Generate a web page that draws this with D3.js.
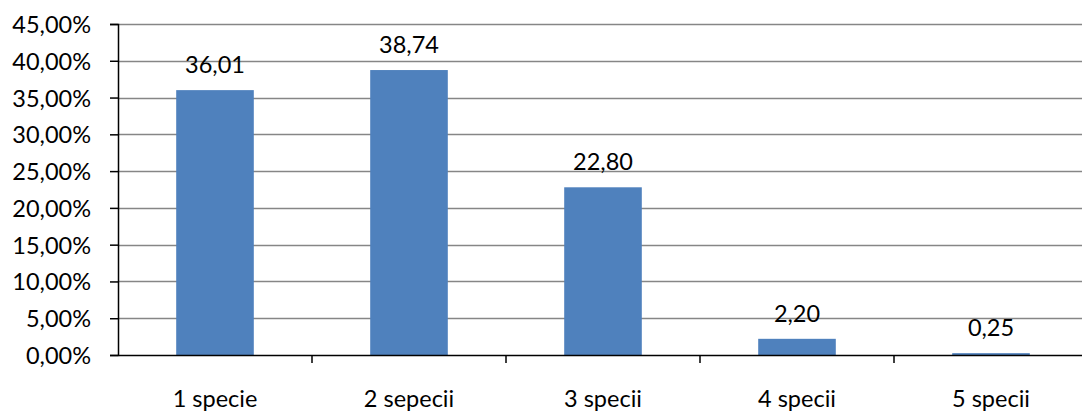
<!DOCTYPE html>
<html>
<head>
<meta charset="utf-8">
<script src="https://cdn.jsdelivr.net/npm/d3@7"></script>
<style>
  html, body { margin: 0; padding: 0; background: #fff; }
  svg { display: block; }
  text { font-family: Lato, "Open Sans", sans-serif; fill: #000; }
</style>
</head>
<body>
<div id="chart"></div>
<script>
// chart data
var categories = ["1 specie", "2 sepecii", "3 specii", "4 specii", "5 specii"];
var values = [36.01, 38.74, 22.80, 2.20, 0.25];
var yTicks = [0, 5, 10, 15, 20, 25, 30, 35, 40, 45];

var width = 1082, height = 414;
var plotLeft = 118, plotRight = 1088, plotTop = 24, plotBottom = 355;

var svg = d3.select("#chart")
    .append("svg")
    .attr("width", width)
    .attr("height", height);

var x = d3.scaleBand()
    .domain(categories)
    .range([plotLeft, plotRight]);

var y = d3.scaleLinear()
    .domain([0, 45])
    .range([plotBottom, plotTop]);

var fmt = function(v, dec){ return v.toFixed(dec).replace(".", ","); };

// gridlines
svg.append("g")
    .selectAll("line")
    .data(yTicks.filter(function(t){ return t > 0; }))
    .enter().append("line")
    .attr("x1", plotLeft)
    .attr("x2", plotRight)
    .attr("y1", function(d){ return Math.round(y(d)) + 0.5; })
    .attr("y2", function(d){ return Math.round(y(d)) + 0.5; })
    .attr("stroke", "#868686")
    .attr("stroke-width", 1.5);

// bars
var barW = x.bandwidth() * 0.4;
svg.append("g")
    .selectAll("rect")
    .data(values)
    .enter().append("rect")
    .attr("x", function(d, i){ return x(categories[i]) + (x.bandwidth() - barW) / 2; })
    .attr("y", function(d){ return y(d); })
    .attr("width", barW)
    .attr("height", function(d){ return plotBottom - y(d); })
    .attr("fill", "#4F81BD");

// y axis
var yAxis = d3.axisLeft(y)
    .tickValues(yTicks)
    .tickSize(8)
    .tickPadding(19)
    .tickFormat(function(d){ return fmt(d, 2) + "%"; });

var gy = svg.append("g")
    .attr("transform", "translate(" + plotLeft + ",0)")
    .call(yAxis);
gy.select(".domain").attr("stroke", "#000").attr("stroke-width", 1.5);
gy.selectAll(".tick line").attr("stroke", "#000").attr("stroke-width", 1.5);
gy.selectAll(".tick text")
    .style("font-family", "Lato, 'Open Sans', sans-serif")
    .style("font-size", "23.5px")
    .attr("dy", "0.36em");

// x axis
var xAxis = d3.axisBottom(x)
    .tickSize(0)
    .tickPadding(0);
var gx = svg.append("g")
    .attr("transform", "translate(0," + plotBottom + ")")
    .call(xAxis);
gx.select(".domain").attr("stroke", "#000").attr("stroke-width", 1.5);
gx.selectAll(".tick text")
    .style("font-family", "Lato, 'Open Sans', sans-serif")
    .style("font-size", "23.5px")
    .attr("y", 52)
    .attr("dy", 0);

// category separator ticks
gx.selectAll(".sep")
    .data(categories.slice(1))
    .enter().append("line")
    .attr("class", "sep")
    .attr("x1", function(d){ return x(d); })
    .attr("x2", function(d){ return x(d); })
    .attr("y1", 0)
    .attr("y2", 8)
    .attr("stroke", "#000")
    .attr("stroke-width", 1.5);

// value labels
svg.append("g")
    .selectAll("text")
    .data(values)
    .enter().append("text")
    .attr("x", function(d, i){ return x(categories[i]) + x.bandwidth() / 2; })
    .attr("y", function(d){ return y(d) - 17; })
    .attr("text-anchor", "middle")
    .style("font-size", "23.5px")
    .text(function(d){ return fmt(d, 2); });
</script>
</body>
</html>
